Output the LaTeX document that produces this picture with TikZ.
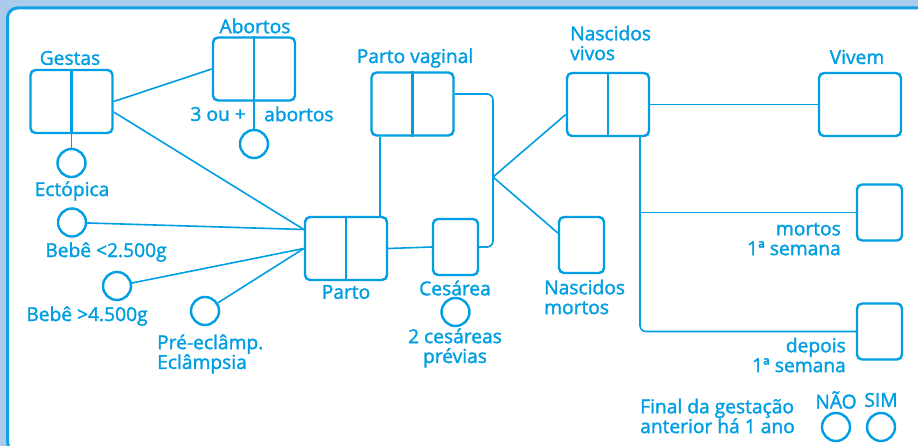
\documentclass[tikz,border=0pt]{standalone}
\usepackage{fontspec}
\setmainfont{Open Sans}[FakeBold=1.6, UprightFeatures={FakeBold=1.6}]
\usepackage{tikz}
\usetikzlibrary{positioning}
\definecolor{mblue}{RGB}{0,158,226}
\definecolor{bgblue}{RGB}{170,203,236}
\definecolor{edgeblue}{RGB}{20,160,232}

\begin{document}
\begin{tikzpicture}[x=1pt, y=-1pt,
	box/.style={draw=mblue, line width=2.4pt, rounded corners=5pt, inner sep=0, minimum width=82pt, minimum height=63pt},
	sbox/.style={draw=mblue, line width=2.4pt, rounded corners=5pt, inner sep=0, minimum width=45pt, minimum height=56pt},
	circ/.style={circle, draw=mblue, line width=2.4pt, minimum size=28pt, inner sep=0},
	lbl/.style={text=mblue, font=\fontsize{19.2}{19.8}\selectfont, inner sep=0},
	conn/.style={draw=mblue, line width=1.6pt}
]
\clip (0,0) rectangle (918,446);
\fill[bgblue] (0,0) rectangle (918,446);
\draw[draw=edgeblue, fill=white, line width=3pt, rounded corners=10pt] (7.5,8) rectangle (940,452);

\node[box] (gestas) at (71.5,101.5) {};
\node[box] (abortos) at (254,69) {};
\node[box] (parto) at (346,248.5) {};
\node[box] (pvag) at (412.5,104) {};
\node[box] (nvivos) at (608,104.5) {};
\node[box] (vivem) at (860,104.5) {};

\node[sbox] (cesarea) at (455.5,247) {};
\node[sbox] (nmortos) at (581.5,245) {};
\node[sbox] (mortos) at (879.5,212.5) {};
\node[sbox] (depois) at (879.5,331.5) {};

\foreach \b in {gestas,abortos,parto,pvag,nvivos}
	\draw[mblue, line width=2.2pt] (\b.north) -- (\b.south);

\node[circ] (ectop) at (71.5,163) {};
\node[circ] (abcirc) at (254,144) {};
\node[circ] (bebe1) at (72,222.5) {};
\node[circ] (bebe2) at (117,286) {};
\node[circ] (preecl) at (205,311) {};
\node[circ] (cescirc) at (455.5,312) {};
\node[circ] (nao) at (836,427) {};
\node[circ] (sim) at (881,427) {};

\node[lbl] (lgestas) at (70,58) {Gestas};
\node[lbl] (labortos) at (255,26) {Abortos};
\node[lbl, anchor=east] (ltres) at (246,114) {3 ou +};
\node[lbl, anchor=west] (labort) at (264,114) {abortos};
\node[lbl] (lectop) at (72,191) {Ectópica};
\node[lbl] (lbebe1) at (106,252) {Bebê <2.500g};
\node[lbl] (lbebe2) at (87,316) {Bebê >4.500g};
\node[lbl, anchor=west, align=left] (lpreecl) at (157,354) {Pré-eclâmp.\\Eclâmpsia};
\node[lbl] (lparto) at (346,292) {Parto};
\node[lbl] (lpvag) at (415,58) {Parto vaginal};
\node[lbl] (lcesarea) at (455,288) {Cesárea};
\node[lbl, align=center] (lcescirc) at (455,348) {2 cesáreas\\prévias};
\node[lbl, anchor=west, align=left] (lnvivos) at (570,43) {Nascidos\\vivos};
\node[lbl] (lvivem) at (857,57) {Vivem};
\node[lbl, anchor=west, align=left] (lnmortos) at (544,297) {Nascidos\\mortos};
\node[lbl, anchor=east, align=right] (lmortos) at (841,239) {mortos\\1ª semana};
\node[lbl, anchor=east, align=right] (ldepois) at (846,355) {depois\\1ª semana};
\node[lbl, anchor=west, align=left] (lfinal) at (640,416) {Final da gestação\\anterior há 1 ano};
\node[lbl] (lnao) at (836,400) {NÃO};
\node[lbl] (lsim) at (881,400) {SIM};

\draw[conn] (gestas.south) -- (ectop);
\draw[conn] (abortos.south) -- (abcirc);
\draw[conn] (gestas.east) -- (abortos.west);
\draw[conn] ([yshift=-10.5pt]gestas.east) -- ([yshift=19pt]parto.west);
\draw[conn] (bebe1) -- ([yshift=19pt]parto.west);
\draw[conn] (bebe2) -- (parto.west);
\draw[conn] (preecl) -- (parto.west);
\draw[conn] (parto.east) -- (cesarea.west);
\draw[conn] ([xshift=34pt]parto.north) -- ([xshift=34pt]parto.north |- pvag.south);

\coordinate (junc) at (493,177);
\draw[conn, rounded corners=6pt] ([yshift=10pt]pvag.east) -| (junc) |- (cesarea.east);
\draw[conn] (junc) -- ([yshift=-10pt]nvivos.west);
\draw[conn] (junc) -- ([yshift=12pt]nmortos.west);

\draw[conn] (nvivos.east) -- (vivem.west);
\coordinate (nvdown) at ([xshift=32pt]nvivos.south);
\draw[conn, rounded corners=6pt] (nvdown) |- (depois.west);
\draw[conn] (nvdown |- mortos.west) -- (mortos.west);
\end{tikzpicture}
\end{document}
